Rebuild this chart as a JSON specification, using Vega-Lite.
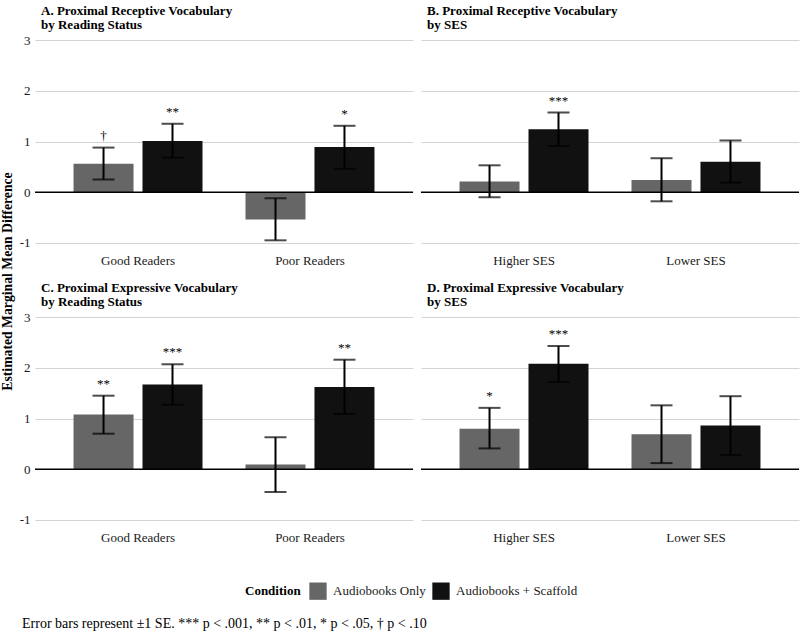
{
  "$schema": "https://vega.github.io/schema/vega-lite/v6.json",
  "background": "white",
  "padding": {"left": 0, "top": 5, "right": 0, "bottom": 0},
  "datasets": {
    "emm": [
      {"panel": "A", "group": "Good Readers", "condition": "Audiobooks Only", "emm": 0.56, "lower": 0.25, "upper": 0.88, "sig": "†"},
      {"panel": "A", "group": "Good Readers", "condition": "Audiobooks + Scaffold", "emm": 1.01, "lower": 0.68, "upper": 1.35, "sig": "**"},
      {"panel": "A", "group": "Poor Readers", "condition": "Audiobooks Only", "emm": -0.54, "lower": -0.95, "upper": -0.12, "sig": ""},
      {"panel": "A", "group": "Poor Readers", "condition": "Audiobooks + Scaffold", "emm": 0.89, "lower": 0.46, "upper": 1.31, "sig": "*"},
      {"panel": "B", "group": "Higher SES", "condition": "Audiobooks Only", "emm": 0.21, "lower": -0.10, "upper": 0.53, "sig": ""},
      {"panel": "B", "group": "Higher SES", "condition": "Audiobooks + Scaffold", "emm": 1.24, "lower": 0.91, "upper": 1.57, "sig": "***"},
      {"panel": "B", "group": "Lower SES", "condition": "Audiobooks Only", "emm": 0.24, "lower": -0.18, "upper": 0.67, "sig": ""},
      {"panel": "B", "group": "Lower SES", "condition": "Audiobooks + Scaffold", "emm": 0.60, "lower": 0.19, "upper": 1.02, "sig": ""},
      {"panel": "C", "group": "Good Readers", "condition": "Audiobooks Only", "emm": 1.08, "lower": 0.70, "upper": 1.45, "sig": "**"},
      {"panel": "C", "group": "Good Readers", "condition": "Audiobooks + Scaffold", "emm": 1.67, "lower": 1.27, "upper": 2.07, "sig": "***"},
      {"panel": "C", "group": "Poor Readers", "condition": "Audiobooks Only", "emm": 0.09, "lower": -0.45, "upper": 0.63, "sig": ""},
      {"panel": "C", "group": "Poor Readers", "condition": "Audiobooks + Scaffold", "emm": 1.62, "lower": 1.09, "upper": 2.16, "sig": "**"},
      {"panel": "D", "group": "Higher SES", "condition": "Audiobooks Only", "emm": 0.80, "lower": 0.41, "upper": 1.21, "sig": "*"},
      {"panel": "D", "group": "Higher SES", "condition": "Audiobooks + Scaffold", "emm": 2.08, "lower": 1.72, "upper": 2.43, "sig": "***"},
      {"panel": "D", "group": "Lower SES", "condition": "Audiobooks Only", "emm": 0.69, "lower": 0.12, "upper": 1.26, "sig": ""},
      {"panel": "D", "group": "Lower SES", "condition": "Audiobooks + Scaffold", "emm": 0.86, "lower": 0.28, "upper": 1.44, "sig": ""}
    ],
    "baseline": [{"ref": 0}]
  },
  "title": {
    "text": "Error bars represent ±1 SE. *** p < .001, ** p < .01, * p < .05, † p < .10",
    "orient": "bottom",
    "anchor": "start",
    "frame": "bounds",
    "font": "Liberation Serif",
    "fontSize": 14,
    "fontWeight": "normal",
    "color": "black",
    "offset": 17,
    "dx": 22
  },
  "resolve": {"scale": {"xOffset": "independent"}},
  "spacing": 1,
  "hconcat": [
    {
      "width": 1,
      "height": 502,
      "data": {"name": "emm"},
      "mark": {"type": "point", "opacity": 0},
      "encoding": {
        "y": {
          "field": "emm",
          "type": "quantitative",
          "axis": {
            "title": "Estimated Marginal Mean Difference",
            "titleFont": "Liberation Serif",
            "titleFontSize": 13.7,
            "titleFontWeight": "bold",
            "titleColor": "black",
            "titlePadding": 0,
            "labels": false,
            "ticks": false,
            "domain": false,
            "grid": false
          }
        }
      }
    },
    {
      "resolve": {"scale": {"xOffset": "independent"}},
      "spacing": 15,
      "vconcat": [
        {
          "resolve": {"scale": {"xOffset": "independent"}},
          "spacing": 6,
          "hconcat": [
            {
              "width": 378,
              "height": 223,
              "title": {"text": ["A. Proximal Receptive Vocabulary", "by Reading Status"]},
              "data": {"name": "emm"},
              "transform": [{"filter": "datum.panel === 'A'"}],
              "layer": [
                {"mark": {"type": "bar"}, "encoding": {
                  "x": {"field": "group", "type": "nominal", "sort": null, "scale": {"paddingInner": 0.25, "paddingOuter": 0.224}, "axis": {"title": null}},
                  "xOffset": {"field": "condition", "type": "nominal", "sort": ["Audiobooks Only", "Audiobooks + Scaffold"], "scale": {"paddingInner": 0.13, "paddingOuter": 0}},
                  "y": {"field": "emm", "type": "quantitative", "scale": {"domain": [-1.2, 3.2], "nice": false, "zero": false}, "axis": {"title": null, "values": [-1, 0, 1, 2, 3], "labelExpr": "'' + datum.value"}},
                  "color": {"field": "condition", "type": "nominal", "title": "Condition", "scale": {"domain": ["Audiobooks Only", "Audiobooks + Scaffold"], "range": ["#666666", "#111111"]}}}},
                {"data": {"name": "baseline"}, "mark": {"type": "rule", "color": "black", "strokeWidth": 1.6}, "encoding": {"y": {"field": "ref", "type": "quantitative"}}},
                {"mark": {"type": "rule", "color": "black", "strokeWidth": 2}, "encoding": {
                  "x": {"field": "group", "type": "nominal", "sort": null},
                  "xOffset": {"field": "condition", "type": "nominal", "sort": ["Audiobooks Only", "Audiobooks + Scaffold"]},
                  "y": {"field": "lower", "type": "quantitative"}, "y2": {"field": "upper"}}},
                {"mark": {"type": "tick", "color": "black", "size": 22, "thickness": 2}, "encoding": {
                  "x": {"field": "group", "type": "nominal", "sort": null},
                  "xOffset": {"field": "condition", "type": "nominal", "sort": ["Audiobooks Only", "Audiobooks + Scaffold"]},
                  "y": {"field": "lower", "type": "quantitative"}}},
                {"mark": {"type": "tick", "color": "black", "size": 22, "thickness": 2}, "encoding": {
                  "x": {"field": "group", "type": "nominal", "sort": null},
                  "xOffset": {"field": "condition", "type": "nominal", "sort": ["Audiobooks Only", "Audiobooks + Scaffold"]},
                  "y": {"field": "upper", "type": "quantitative"}}},
                {"mark": {"type": "text", "font": "Liberation Serif", "fontSize": 13, "baseline": "alphabetic", "dy": -8, "color": "black"}, "encoding": {
                  "x": {"field": "group", "type": "nominal", "sort": null},
                  "xOffset": {"field": "condition", "type": "nominal", "sort": ["Audiobooks Only", "Audiobooks + Scaffold"]},
                  "y": {"field": "upper", "type": "quantitative"}, "text": {"field": "sig"}}}
              ]
            },
            {
              "width": 378,
              "height": 223,
              "title": {"text": ["B. Proximal Receptive Vocabulary", "by SES"]},
              "data": {"name": "emm"},
              "transform": [{"filter": "datum.panel === 'B'"}],
              "layer": [
                {"mark": {"type": "bar"}, "encoding": {
                  "x": {"field": "group", "type": "nominal", "sort": null, "scale": {"paddingInner": 0.25, "paddingOuter": 0.224}, "axis": {"title": null}},
                  "xOffset": {"field": "condition", "type": "nominal", "sort": ["Audiobooks Only", "Audiobooks + Scaffold"], "scale": {"paddingInner": 0.13, "paddingOuter": 0}},
                  "y": {"field": "emm", "type": "quantitative", "scale": {"domain": [-1.2, 3.2], "nice": false, "zero": false}, "axis": {"title": null, "values": [-1, 0, 1, 2, 3], "labels": false}},
                  "color": {"field": "condition", "type": "nominal", "title": "Condition", "scale": {"domain": ["Audiobooks Only", "Audiobooks + Scaffold"], "range": ["#666666", "#111111"]}}}},
                {"data": {"name": "baseline"}, "mark": {"type": "rule", "color": "black", "strokeWidth": 1.6}, "encoding": {"y": {"field": "ref", "type": "quantitative"}}},
                {"mark": {"type": "rule", "color": "black", "strokeWidth": 2}, "encoding": {
                  "x": {"field": "group", "type": "nominal", "sort": null},
                  "xOffset": {"field": "condition", "type": "nominal", "sort": ["Audiobooks Only", "Audiobooks + Scaffold"]},
                  "y": {"field": "lower", "type": "quantitative"}, "y2": {"field": "upper"}}},
                {"mark": {"type": "tick", "color": "black", "size": 22, "thickness": 2}, "encoding": {
                  "x": {"field": "group", "type": "nominal", "sort": null},
                  "xOffset": {"field": "condition", "type": "nominal", "sort": ["Audiobooks Only", "Audiobooks + Scaffold"]},
                  "y": {"field": "lower", "type": "quantitative"}}},
                {"mark": {"type": "tick", "color": "black", "size": 22, "thickness": 2}, "encoding": {
                  "x": {"field": "group", "type": "nominal", "sort": null},
                  "xOffset": {"field": "condition", "type": "nominal", "sort": ["Audiobooks Only", "Audiobooks + Scaffold"]},
                  "y": {"field": "upper", "type": "quantitative"}}},
                {"mark": {"type": "text", "font": "Liberation Serif", "fontSize": 13, "baseline": "alphabetic", "dy": -8, "color": "black"}, "encoding": {
                  "x": {"field": "group", "type": "nominal", "sort": null},
                  "xOffset": {"field": "condition", "type": "nominal", "sort": ["Audiobooks Only", "Audiobooks + Scaffold"]},
                  "y": {"field": "upper", "type": "quantitative"}, "text": {"field": "sig"}}}
              ]
            }
          ]
        },
        {
          "resolve": {"scale": {"xOffset": "independent"}},
          "spacing": 6,
          "hconcat": [
            {
              "width": 378,
              "height": 223,
              "title": {"text": ["C. Proximal Expressive Vocabulary", "by Reading Status"]},
              "data": {"name": "emm"},
              "transform": [{"filter": "datum.panel === 'C'"}],
              "layer": [
                {"mark": {"type": "bar"}, "encoding": {
                  "x": {"field": "group", "type": "nominal", "sort": null, "scale": {"paddingInner": 0.25, "paddingOuter": 0.224}, "axis": {"title": null}},
                  "xOffset": {"field": "condition", "type": "nominal", "sort": ["Audiobooks Only", "Audiobooks + Scaffold"], "scale": {"paddingInner": 0.13, "paddingOuter": 0}},
                  "y": {"field": "emm", "type": "quantitative", "scale": {"domain": [-1.2, 3.2], "nice": false, "zero": false}, "axis": {"title": null, "values": [-1, 0, 1, 2, 3], "labelExpr": "'' + datum.value"}},
                  "color": {"field": "condition", "type": "nominal", "title": "Condition", "scale": {"domain": ["Audiobooks Only", "Audiobooks + Scaffold"], "range": ["#666666", "#111111"]}}}},
                {"data": {"name": "baseline"}, "mark": {"type": "rule", "color": "black", "strokeWidth": 1.6}, "encoding": {"y": {"field": "ref", "type": "quantitative"}}},
                {"mark": {"type": "rule", "color": "black", "strokeWidth": 2}, "encoding": {
                  "x": {"field": "group", "type": "nominal", "sort": null},
                  "xOffset": {"field": "condition", "type": "nominal", "sort": ["Audiobooks Only", "Audiobooks + Scaffold"]},
                  "y": {"field": "lower", "type": "quantitative"}, "y2": {"field": "upper"}}},
                {"mark": {"type": "tick", "color": "black", "size": 22, "thickness": 2}, "encoding": {
                  "x": {"field": "group", "type": "nominal", "sort": null},
                  "xOffset": {"field": "condition", "type": "nominal", "sort": ["Audiobooks Only", "Audiobooks + Scaffold"]},
                  "y": {"field": "lower", "type": "quantitative"}}},
                {"mark": {"type": "tick", "color": "black", "size": 22, "thickness": 2}, "encoding": {
                  "x": {"field": "group", "type": "nominal", "sort": null},
                  "xOffset": {"field": "condition", "type": "nominal", "sort": ["Audiobooks Only", "Audiobooks + Scaffold"]},
                  "y": {"field": "upper", "type": "quantitative"}}},
                {"mark": {"type": "text", "font": "Liberation Serif", "fontSize": 13, "baseline": "alphabetic", "dy": -8, "color": "black"}, "encoding": {
                  "x": {"field": "group", "type": "nominal", "sort": null},
                  "xOffset": {"field": "condition", "type": "nominal", "sort": ["Audiobooks Only", "Audiobooks + Scaffold"]},
                  "y": {"field": "upper", "type": "quantitative"}, "text": {"field": "sig"}}}
              ]
            },
            {
              "width": 378,
              "height": 223,
              "title": {"text": ["D. Proximal Expressive Vocabulary", "by SES"]},
              "data": {"name": "emm"},
              "transform": [{"filter": "datum.panel === 'D'"}],
              "layer": [
                {"mark": {"type": "bar"}, "encoding": {
                  "x": {"field": "group", "type": "nominal", "sort": null, "scale": {"paddingInner": 0.25, "paddingOuter": 0.224}, "axis": {"title": null}},
                  "xOffset": {"field": "condition", "type": "nominal", "sort": ["Audiobooks Only", "Audiobooks + Scaffold"], "scale": {"paddingInner": 0.13, "paddingOuter": 0}},
                  "y": {"field": "emm", "type": "quantitative", "scale": {"domain": [-1.2, 3.2], "nice": false, "zero": false}, "axis": {"title": null, "values": [-1, 0, 1, 2, 3], "labels": false}},
                  "color": {"field": "condition", "type": "nominal", "title": "Condition", "scale": {"domain": ["Audiobooks Only", "Audiobooks + Scaffold"], "range": ["#666666", "#111111"]}}}},
                {"data": {"name": "baseline"}, "mark": {"type": "rule", "color": "black", "strokeWidth": 1.6}, "encoding": {"y": {"field": "ref", "type": "quantitative"}}},
                {"mark": {"type": "rule", "color": "black", "strokeWidth": 2}, "encoding": {
                  "x": {"field": "group", "type": "nominal", "sort": null},
                  "xOffset": {"field": "condition", "type": "nominal", "sort": ["Audiobooks Only", "Audiobooks + Scaffold"]},
                  "y": {"field": "lower", "type": "quantitative"}, "y2": {"field": "upper"}}},
                {"mark": {"type": "tick", "color": "black", "size": 22, "thickness": 2}, "encoding": {
                  "x": {"field": "group", "type": "nominal", "sort": null},
                  "xOffset": {"field": "condition", "type": "nominal", "sort": ["Audiobooks Only", "Audiobooks + Scaffold"]},
                  "y": {"field": "lower", "type": "quantitative"}}},
                {"mark": {"type": "tick", "color": "black", "size": 22, "thickness": 2}, "encoding": {
                  "x": {"field": "group", "type": "nominal", "sort": null},
                  "xOffset": {"field": "condition", "type": "nominal", "sort": ["Audiobooks Only", "Audiobooks + Scaffold"]},
                  "y": {"field": "upper", "type": "quantitative"}}},
                {"mark": {"type": "text", "font": "Liberation Serif", "fontSize": 13, "baseline": "alphabetic", "dy": -8, "color": "black"}, "encoding": {
                  "x": {"field": "group", "type": "nominal", "sort": null},
                  "xOffset": {"field": "condition", "type": "nominal", "sort": ["Audiobooks Only", "Audiobooks + Scaffold"]},
                  "y": {"field": "upper", "type": "quantitative"}, "text": {"field": "sig"}}}
              ]
            }
          ]
        }
      ]
    }
  ],
  "config": {
    "font": "Liberation Serif",
    "view": {"stroke": null},
    "bar": {"stroke": null},
    "title": {
      "anchor": "start",
      "frame": "group",
      "font": "Liberation Serif",
      "fontSize": 13,
      "fontWeight": "bold",
      "color": "black",
      "lineHeight": 14,
      "offset": -2,
      "dx": 6
    },
    "axisX": {
      "ticks": false,
      "domain": false,
      "grid": false,
      "labelFont": "Liberation Serif",
      "labelFontSize": 13,
      "labelColor": "#1a1a1a",
      "labelPadding": 1,
      "labelAngle": 0
    },
    "axisY": {
      "ticks": false,
      "domain": false,
      "grid": true,
      "gridColor": "#d3d3d3",
      "gridWidth": 1.1,
      "labelFont": "Liberation Serif",
      "labelFontSize": 13,
      "labelColor": "#1a1a1a",
      "labelPadding": 5
    },
    "legend": {
      "orient": "none",
      "legendX": 231,
      "legendY": 552,
      "direction": "horizontal",
      "titleOrient": "left",
      "titleFont": "Liberation Serif",
      "titleFontSize": 13,
      "titleFontWeight": "bold",
      "titleColor": "black",
      "titlePadding": 8,
      "labelFont": "Liberation Serif",
      "labelFontSize": 13,
      "labelColor": "#1a1a1a",
      "labelOffset": 6,
      "columnPadding": 6,
      "symbolType": "square",
      "symbolSize": 300,
      "symbolStrokeWidth": 0,
      "symbolOpacity": 1
    }
  }
}
